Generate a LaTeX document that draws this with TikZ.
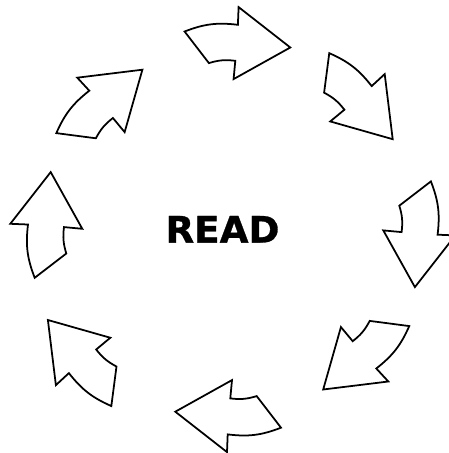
\documentclass[tikz,border=0pt]{standalone}
\usepackage{fontspec}
\newfontfamily\readfont[FakeBold=0.8]{DejaVu Sans Bold}

\tikzset{
  arrowline/.style={draw=black, fill=white, line width=1pt, line join=miter},
  pics/cyclearrow/.style={code={
    \draw[arrowline] (0,0) -- (-56.7,-31.6) -- (-55,-13.3) to[bend right=12] (-81.4,-15.6)
      -- (-105.7,16) to[bend left=14] (-52.4,22.7) -- (-51.7,40.4) -- cycle;
  }},
}

\begin{document}
\begin{tikzpicture}[x=0.02cm,y=0.02cm]
\useasboundingbox (-232.8,-223.4) rectangle (216.2,229.6);
% eight arrows round the circle, clockwise
\foreach \r/\tx/\ty in {0/57.5/182.1, -45/159.9/90.4, -90/182.1/-57.5, -135/90.4/-159.9,
    -180/-57.5/-182.1, -225/-184.9/-90.4, -270/-182.1/57.5, -315/-90.4/159.9}
  \pic[rotate=\r] at (\tx,\ty) {cyclearrow};
\node[font=\readfont\fontsize{20.8}{24}\selectfont, xscale=1.02, inner sep=0] (read) at (-10.3,0.3) {READ};
\end{tikzpicture}
\end{document}
